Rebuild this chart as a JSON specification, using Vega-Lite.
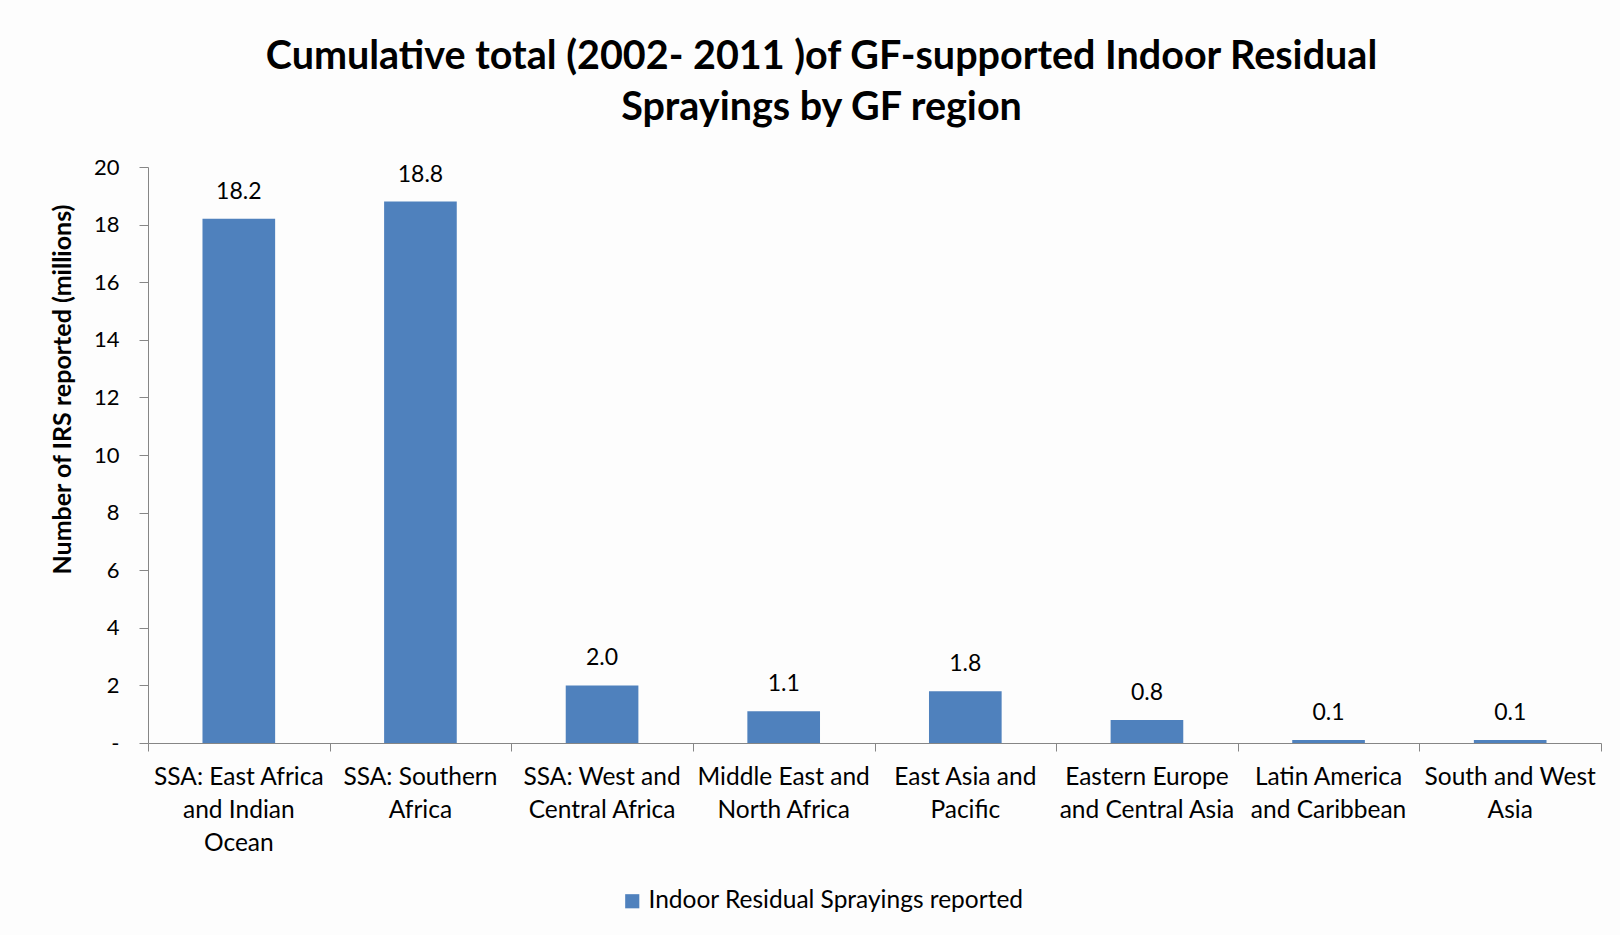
{
  "$schema": "https://vega.github.io/schema/vega-lite/v6.json",
  "width": 1453,
  "height": 576,
  "autosize": {"type": "none"},
  "padding": {"left": 148, "top": 167, "right": 19, "bottom": 192},
  "background": "#FDFDFD",
  "title": {
    "text": ["Cumulative total (2002- 2011 )of GF-supported Indoor Residual", "Sprayings by GF region"],
    "fontSize": 39.5,
    "fontWeight": "bold",
    "font": "Lato",
    "color": "#000000",
    "lineHeight": 51,
    "anchor": "middle",
    "dx": -53,
    "offset": 28
  },
  "data": {
    "values": [
      {"region": "SSA: East Africa and Indian Ocean", "value": 18.2},
      {"region": "SSA: Southern Africa", "value": 18.8},
      {"region": "SSA: West and Central Africa", "value": 2.0},
      {"region": "Middle East and North Africa", "value": 1.1},
      {"region": "East Asia and Pacific", "value": 1.8},
      {"region": "Eastern Europe and Central Asia", "value": 0.8},
      {"region": "Latin America and Caribbean", "value": 0.1},
      {"region": "South and West Asia", "value": 0.1}
    ]
  },
  "resolve": {"axis": {"x": "independent"}},
  "layer": [
    {
      "mark": {"type": "bar", "width": {"band": 0.4}},
      "encoding": {
        "x": {
          "field": "region",
          "type": "nominal",
          "sort": null,
          "scale": {"paddingInner": 0, "paddingOuter": 0},
          "axis": {
            "orient": "bottom",
            "title": null,
            "labels": false,
            "tickBand": "extent",
            "tickSize": 8,
            "tickColor": "#868686",
            "domainColor": "#868686"
          }
        },
        "y": {
          "field": "value",
          "type": "quantitative",
          "scale": {"domain": [0, 20], "nice": false},
          "axis": {
            "title": "Number of IRS reported (millions)",
            "titleFontSize": 25,
            "titleFontWeight": "bold",
            "titleColor": "#000000",
            "titleX": -86,
            "titleY": 222,
            "titleAngle": -90,
            "titleAlign": "center",
            "titleBaseline": "middle",
            "values": [0, 2, 4, 6, 8, 10, 12, 14, 16, 18, 20],
            "labelExpr": "datum.value == 0 ? '-' : datum.label",
            "labelFontSize": 22,
            "labelColor": "#000000",
            "labelPadding": 20,
            "tickSize": 9,
            "tickColor": "#868686",
            "domainColor": "#868686",
            "grid": false
          }
        },
        "color": {
          "datum": "Indoor Residual Sprayings reported",
          "type": "nominal",
          "scale": {"range": ["#4F81BD"]},
          "legend": {
            "title": null,
            "orient": "none",
            "legendX": 472,
            "legendY": 722,
            "symbolType": "square",
            "symbolSize": 200,
            "symbolStrokeWidth": 0,
            "labelFontSize": 24.5,
            "labelLimit": 0,
            "labelColor": "#000000",
            "labelOffset": 4
          }
        }
      }
    },
    {
      "mark": {"type": "text", "fontSize": 23, "color": "#000000", "baseline": "alphabetic", "dy": -20},
      "encoding": {
        "x": {
          "field": "region",
          "type": "nominal",
          "sort": null,
          "axis": {
            "orient": "bottom",
            "title": null,
            "labelAngle": 0,
            "labelFontSize": 24.5,
            "labelColor": "#000000",
            "labelLineHeight": 33,
            "labelPadding": 22,
            "labelBaseline": "top",
            "ticks": false,
            "domain": false,
            "labelExpr": "datum.label == 'SSA: East Africa and Indian Ocean' ? ['SSA: East Africa', 'and Indian', 'Ocean'] : datum.label == 'SSA: Southern Africa' ? ['SSA: Southern', 'Africa'] : datum.label == 'SSA: West and Central Africa' ? ['SSA: West and', 'Central Africa'] : datum.label == 'Middle East and North Africa' ? ['Middle East and', 'North Africa'] : datum.label == 'East Asia and Pacific' ? ['East Asia and', 'Pacific'] : datum.label == 'Eastern Europe and Central Asia' ? ['Eastern Europe', 'and Central Asia'] : datum.label == 'Latin America and Caribbean' ? ['Latin America', 'and Caribbean'] : ['South and West', 'Asia']"
          }
        },
        "y": {"field": "value", "type": "quantitative"},
        "text": {"field": "value", "type": "quantitative", "format": ".1f"}
      }
    }
  ],
  "config": {
    "font": "Lato",
    "view": {"stroke": null}
  }
}
